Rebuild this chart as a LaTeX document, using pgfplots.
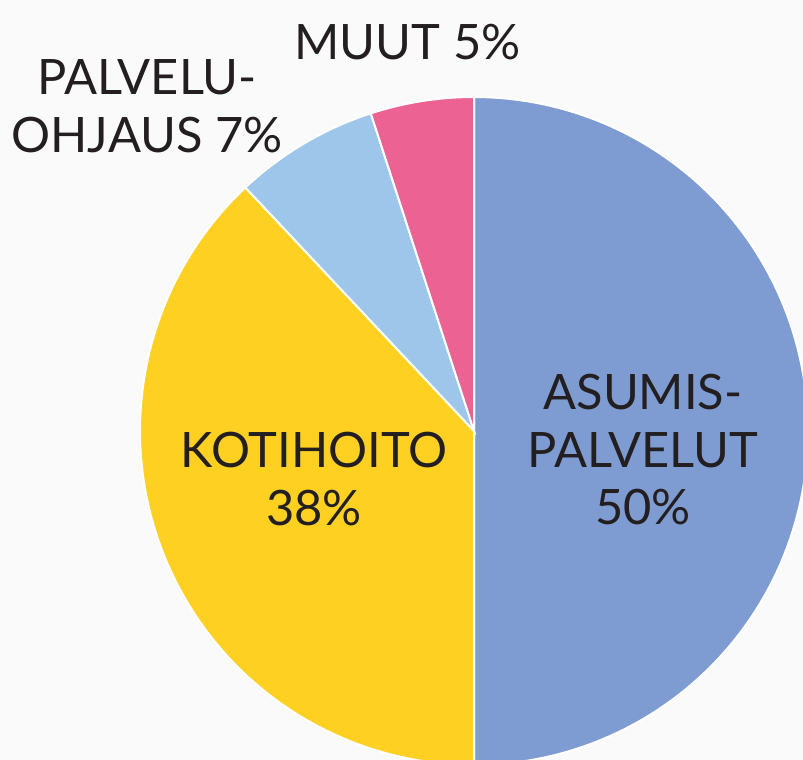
\documentclass[border=0pt]{standalone}
\usepackage{fontspec}
\setmainfont{Lato}
\usepackage{pgfplots}
\pgfplotsset{compat=1.18}
\definecolor{cAsu}{HTML}{7F9CD2}
\definecolor{cKoti}{HTML}{FDD022}
\definecolor{cPalv}{HTML}{9DC6EA}
\definecolor{cMuut}{HTML}{EC6293}
\definecolor{bg}{HTML}{FAFAFA}
\definecolor{txt}{HTML}{231F20}
% shares in percent, clockwise from the top: Asumispalvelut 50, Kotihoito 38, Palveluohjaus 7, Muut 5
% cumulative bounds: 0 50 88 95 100
\newcommand{\R}{334}
\newcommand{\slice}[3]{%
  \addplot[fill=#3, draw=white, line width=2bp, domain={90-3.6*(#2)}:{90-3.6*(#1)}, samples=120, variable=\t]
    ({\R*cos(\t)},{\R*sin(\t)}) -- (axis cs:0,0) -- cycle;}
\begin{document}
\begin{tikzpicture}
\begin{axis}[
  width=803bp, height=760bp, scale only axis,
  xmin=-474, xmax=329, ymin=-329, ymax=431,
  hide axis, clip=true,
]
\path[fill=bg] (rel axis cs:0,0) rectangle (rel axis cs:1,1);
\slice{0}{50}{cAsu}
\slice{50}{88}{cKoti}
\slice{88}{95}{cPalv}
\slice{95}{100}{cMuut}
\begin{scope}[every node/.style={text=txt, inner sep=0pt, align=center, font=\fontsize{48.8bp}{57.5bp}\selectfont}]
\node at (axis cs:-66.5,388.5) {MUUT 5\%};
\node at (axis cs:-327,325) {PALVELU-\\OHJAUS 7\%};
\node at (axis cs:169,-19) {ASUMIS-\\PALVELUT\\50\%};
\node at (axis cs:-160,-48) {KOTIHOITO\\38\%};
\end{scope}
\end{axis}
\end{tikzpicture}
\end{document}
